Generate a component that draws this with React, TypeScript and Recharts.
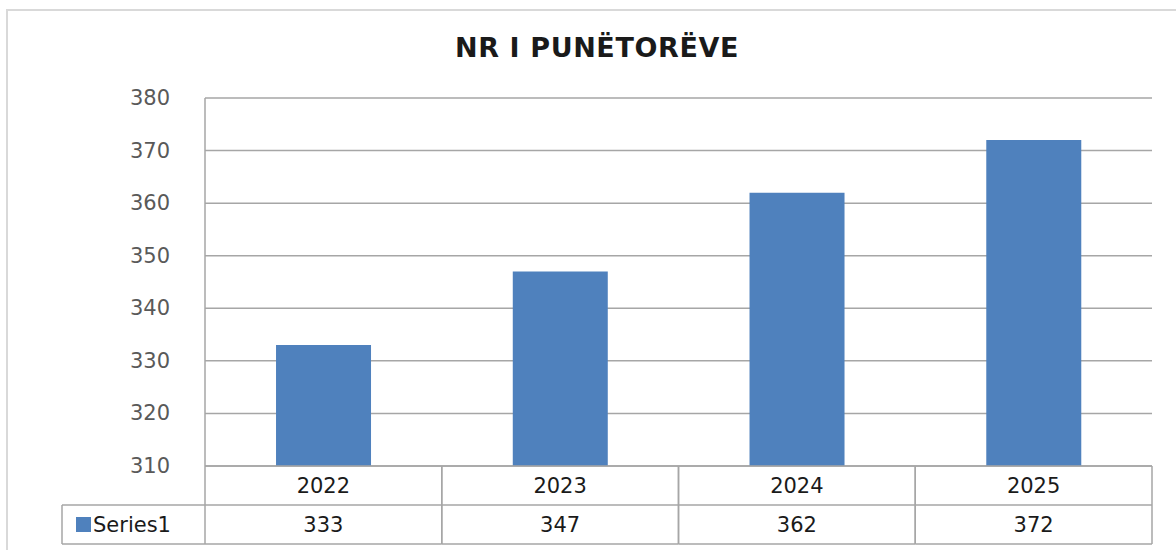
import React from "react";
import { BarChart, Bar, XAxis, YAxis, CartesianGrid } from "recharts";

const categories = ["2022", "2023", "2024", "2025"];
const series1 = [333, 347, 362, 372];
const yTicks = [310, 320, 330, 340, 350, 360, 370, 380];
const seriesName = "Series1";
const title = "NR I PUNËTORËVE";

const data = categories.map((c, i) => ({ year: c, value: series1[i] }));

const LINE = "#a6a6a6";
const BAR = "#4f81bd";
const FONT = "'DejaVu Sans', sans-serif";

const TableTick = (props: any) => {
  const { x, y, payload, index } = props;
  const half = payload && payload.offset ? payload.offset : 118.4;
  const left = x - half;
  const right = x + half;
  const r1 = y;
  const r2 = y + 39;
  const r3 = y + 78;
  const legendLeft = left - 143;
  return (
    <g>
      <line x1={left} y1={r1} x2={left} y2={r3} stroke={LINE} strokeWidth={1.5} />
      <line x1={right} y1={r1} x2={right} y2={r3} stroke={LINE} strokeWidth={1.5} />
      <line x1={left} y1={r2} x2={right} y2={r2} stroke={LINE} strokeWidth={1.5} />
      <line x1={left} y1={r3} x2={right} y2={r3} stroke={LINE} strokeWidth={1.5} />
      <text x={x} y={r1 + 20} textAnchor="middle" dominantBaseline="central" fontFamily={FONT} fontSize={21} fill="#1a1a1a">
        {payload.value}
      </text>
      <text x={x} y={r2 + 20} textAnchor="middle" dominantBaseline="central" fontFamily={FONT} fontSize={21} fill="#1a1a1a">
        {series1[index]}
      </text>
      {index === 0 && (
        <g>
          <line x1={legendLeft} y1={r2} x2={left} y2={r2} stroke={LINE} strokeWidth={1.5} />
          <line x1={legendLeft} y1={r3} x2={left} y2={r3} stroke={LINE} strokeWidth={1.5} />
          <line x1={legendLeft} y1={r2} x2={legendLeft} y2={r3} stroke={LINE} strokeWidth={1.5} />
          <rect x={legendLeft + 14} y={r2 + 12} width={15} height={15} fill={BAR} />
          <text x={legendLeft + 31} y={r2 + 20} textAnchor="start" dominantBaseline="central" fontFamily={FONT} fontSize={21} fill="#1a1a1a">
            {seriesName}
          </text>
        </g>
      )}
    </g>
  );
};

const YTick = (props: any) => {
  const { x, y, payload } = props;
  return (
    <text x={x} y={y} textAnchor="end" dominantBaseline="central" fontFamily={FONT} fontSize={21} fill="#595959">
      {payload.value}
    </text>
  );
};

export default function App() {
  return (
    <div style={{ position: "absolute", left: 0, top: 0, width: 1176, height: 550, overflow: "hidden", background: "#fff" }}>
      <div
        style={{
          position: "absolute",
          left: 6,
          top: 9,
          width: 1300,
          height: 700,
          border: "2px solid #d9d9d9",
          boxSizing: "border-box",
        }}
      />
      <div
        style={{
          position: "absolute",
          left: 297,
          width: 600,
          top: 30,
          textAlign: "center",
          fontFamily: FONT,
          fontWeight: "bold",
          fontSize: 27,
          letterSpacing: 0.6,
          color: "#1a1a1a",
          lineHeight: "36px",
        }}
      >
        {title}
      </div>
      <div style={{ position: "absolute", left: 0, top: 0 }}>
        <BarChart
          width={1176}
          height={550}
          data={data}
          margin={{ top: 98, right: 24, bottom: 0, left: 0 }}
          barCategoryGap="30%"
        >
          <CartesianGrid horizontal={true} vertical={false} stroke={LINE} strokeWidth={1.5} />
          <XAxis
            dataKey="year"
            height={84}
            axisLine={{ stroke: LINE, strokeWidth: 1.5 }}
            tickLine={false}
            tickSize={0}
            tickMargin={0}
            tick={<TableTick />}
            interval={0}
          />
          <YAxis
            width={205}
            domain={[310, 380]}
            ticks={yTicks}
            allowDataOverflow={true}
            axisLine={{ stroke: LINE, strokeWidth: 1.5 }}
            tickLine={false}
            tickSize={0}
            tickMargin={35}
            tick={<YTick />}
          />
          <Bar dataKey="value" fill={BAR} isAnimationActive={false} />
        </BarChart>
      </div>
    </div>
  );
}
